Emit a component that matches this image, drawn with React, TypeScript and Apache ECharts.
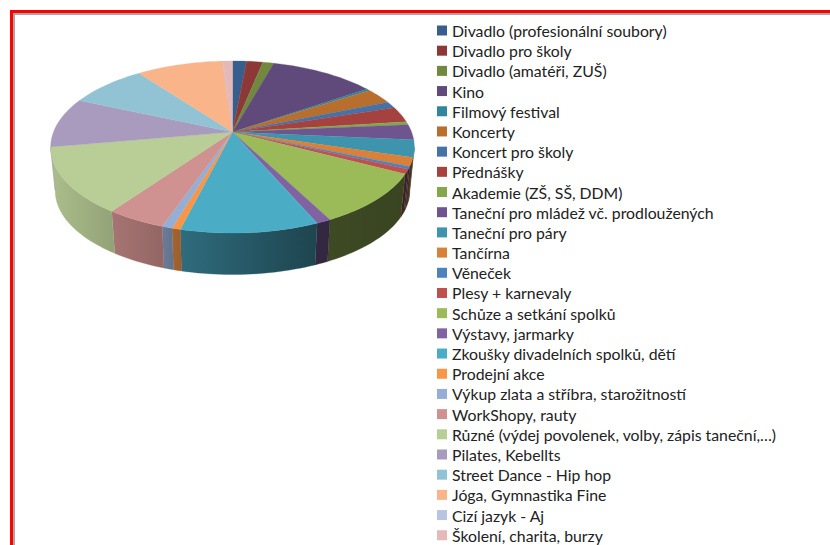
import React, { useEffect, useRef } from "react";
import * as echarts from "echarts";

const categories = [
  "Divadlo (profesionální soubory)", "Divadlo pro školy", "Divadlo (amatéři, ZUŠ)", "Kino", "Filmový festival",
  "Koncerty", "Koncert pro školy", "Přednášky", "Akademie (ZŠ, SŠ, DDM)", "Taneční pro mládež vč. prodloužených",
  "Taneční pro páry", "Tančírna", "Věneček", "Plesy + karnevaly", "Schůze a setkání spolků", "Výstavy, jarmarky",
  "Zkoušky divadelních spolků, dětí", "Prodejní akce", "Výkup zlata a stříbra, starožitností", "WorkShopy, rauty",
  "Různé (výdej povolenek, volby, zápis taneční,…)", "Pilates, Kebellts", "Street Dance - Hip hop",
  "Jóga, Gymnastika Fine", "Cizí jazyk - Aj", "Školení, charita, burzy",
];
const values = [
  1.48, 1.7, 1.17, 11.1, 0.36, 2.97, 1.25, 2.97, 0.6, 2.87, 3.25, 1.58, 0.53,
  0.86, 9.72, 1.11, 10.4, 0.64, 0.78, 4.5, 12.4, 9.4, 8.25, 9.1, 0.03, 1.02,
];
const colors = [
  "#375e8c", "#8c3836", "#71893e", "#5f4a7b", "#31859c", "#b86e2d",
  "#4672a8", "#a5423f", "#85a64b", "#6f5590", "#3e94ad", "#d98139",
  "#4f81bd", "#c0504d", "#9bbb59", "#8064a2", "#4bacc6", "#f79646",
  "#95aed6", "#d09290", "#b9cd96", "#a99bbd", "#92c3d4", "#f9b48a",
  "#b9c5e0", "#e5b9b8",
];

const CX = 232.5, APEX_Y = 132, F = 1026, FY = 478, D = 5.73;
const BOTTOM_SHIFT = 44, BOTTOM_SCALE = 0.975;
const total = values.reduce((a, b) => a + b, 0);
const rad = (i: number) => (values.slice(0, i).reduce((a, b) => a + b, 0) / total) * Math.PI * 2;

function top(phi: number): number[] {
  const X = Math.sin(phi), Y = -Math.cos(phi);
  return [CX + (F * X) / (D - Y), APEX_Y + (FY * Y) / (D - Y)];
}
function bottom(phi: number): number[] {
  const X = Math.sin(phi), Y = -Math.cos(phi);
  return [CX + (BOTTOM_SCALE * F * X) / (D - Y), APEX_Y + BOTTOM_SHIFT + (BOTTOM_SCALE * FY * Y) / (D - Y)];
}
function arc(fn: (p: number) => number[], a: number, b: number): number[][] {
  const n = Math.max(1, Math.ceil((b - a) / (Math.PI / 120)));
  const pts: number[][] = [];
  for (let i = 0; i <= n; i++) pts.push(fn(a + ((b - a) * i) / n));
  return pts;
}
const shadeStops = [[50, 0.93], [110, 0.8], [165, 0.7], [180, 0.63], [315, 0.4], [420, 0.36]];
function shadeAt(x: number) {
  for (let i = 1; i < shadeStops.length; i++) {
    if (x <= shadeStops[i][0]) {
      const [x0, s0] = shadeStops[i - 1], [x1, s1] = shadeStops[i];
      return s0 + ((s1 - s0) * (x - x0)) / (x1 - x0);
    }
  }
  return 0.36;
}
function mul(hex: string, s: number) {
  const n = parseInt(hex.slice(1), 16);
  const c = [(n >> 16) & 255, (n >> 8) & 255, n & 255].map((v) => Math.round(v * s));
  return `rgb(${c[0]},${c[1]},${c[2]})`;
}

export default function App() {
  const ref = useRef<HTMLDivElement>(null);
  useEffect(() => {
    const chart = echarts.init(ref.current!, undefined, { renderer: "svg" });
    const walls = categories.map((name, i) => ({
      type: "custom" as const,
      name,
      z: 2,
      coordinateSystem: "none",
      silent: true,
      itemStyle: { color: colors[i] },
      data: [{ value: values[i], name }],
      renderItem: () => {
        const a = Math.max(rad(i), (100 / 180) * Math.PI);
        const b = Math.min(rad(i + 1), (260 / 180) * Math.PI);
        if (b <= a) return { type: "group", children: [] };
        const t = arc(top, a, b);
        const bt = arc(bottom, a, b).reverse();
        const pts = t.concat(bt);
        const xs = pts.map((p) => p[0]);
        const x0 = Math.min(...xs), x1 = Math.max(...xs);
        const stops = [0, 0.25, 0.5, 0.75, 1].map((o) => ({ offset: o, color: mul(colors[i], shadeAt(x0 + (x1 - x0) * o)) }));
        return {
          type: "polygon",
          shape: { points: pts },
          style: { fill: new echarts.graphic.LinearGradient(0, 0, 1, 0, stops), stroke: mul(colors[i], shadeAt((x0 + x1) / 2)), lineWidth: 0.3 },
        };
      },
    }));
    const tops = categories.map((name, i) => ({
      type: "custom" as const,
      name,
      z: 3,
      coordinateSystem: "none",
      silent: true,
      itemStyle: { color: colors[i] },
      data: [{ value: values[i], name }],
      renderItem: () => ({
        type: "polygon",
        shape: { points: [[CX, APEX_Y]].concat(arc(top, rad(i), rad(i + 1))) },
        style: { fill: colors[i], stroke: colors[i], lineWidth: 0.3 },
      }),
    }));
    chart.setOption({
      animation: false,
      backgroundColor: "#ffffff",
      legend: {
        show: true,
        orient: "vertical",
        left: 437,
        top: 22.5,
        height: 522,
        padding: 0,
        icon: "rect",
        itemWidth: 10,
        itemHeight: 10,
        itemGap: 4.19,
        selectedMode: false,
        data: categories,
        textStyle: { fontFamily: "Lato", fontSize: 15.8, color: "#222222", lineHeight: 14 },
      },
      graphic: [
        { type: "rect", shape: { x: 11, y: 13, width: 819, height: 2 }, style: { fill: "#a6a6a6" }, z: 1 },
        { type: "rect", shape: { x: 13, y: 13, width: 2, height: 532 }, style: { fill: "#a6a6a6" }, z: 1 },
        { type: "rect", shape: { x: 10, y: 10, width: 820, height: 3 }, style: { fill: "#ff0000" }, z: 1 },
        { type: "rect", shape: { x: 10, y: 10, width: 3, height: 535 }, style: { fill: "#ff0000" }, z: 1 },
      ],
      series: [...walls, ...tops],
    });
    return () => chart.dispose();
  }, []);
  return <div ref={ref} style={{ position: "fixed", left: 0, top: 0, width: 830, height: 545 }} />;
}
